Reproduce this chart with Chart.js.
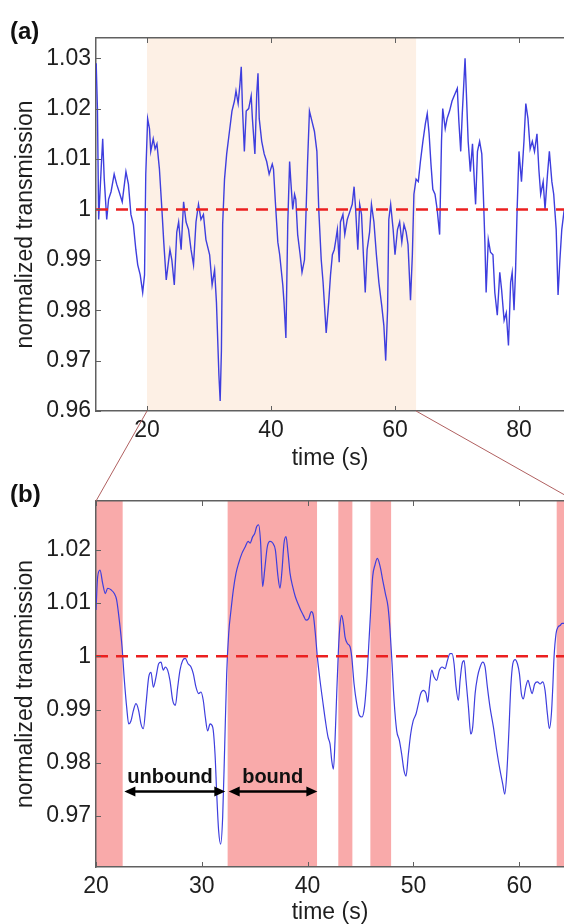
<!DOCTYPE html>
<html>
<head>
<meta charset="utf-8">
<title>normalized transmission</title>
<script src="https://cdn.jsdelivr.net/npm/chart.js@4.4.1/dist/chart.umd.min.js"></script>
<style>
  html, body { margin: 0; padding: 0; background: #ffffff; overflow: hidden; }
  #page { position: relative; width: 564px; height: 924px; }
  #chartA { position: absolute; left: 0; top: 0; }
  #chartB { position: absolute; left: 0; top: 405px; }
</style>
</head>
<body>
<div id="page">
  <canvas id="chartA" width="564" height="470"></canvas>
  <canvas id="chartB" width="564" height="519"></canvas>
</div>
<script>
// ---- panel (a): raw trace, time (s) / normalized transmission ----
const timeA = [
  11.8, 12.0, 12.2, 12.6, 12.85, 13.1, 13.5, 13.8, 14.2, 14.7,
  15.1, 15.5, 16.0, 16.6, 17.0, 17.4, 17.8, 18.2, 18.5, 18.9,
  19.3, 19.6, 19.8, 20.1, 20.4, 20.6, 21.0, 21.3, 21.6, 22.0,
  22.4, 22.7, 23.1, 23.3, 23.7, 24.0, 24.4, 24.8, 25.1, 25.5,
  25.9, 26.3, 26.7, 27.1, 27.5, 27.9, 28.3, 28.7, 29.1, 29.5,
  30.1, 30.5, 30.9, 31.2, 31.6, 31.8, 32.0, 32.2, 32.5, 32.85,
  33.3, 33.7, 34.1, 34.35, 34.7, 35.0, 35.2, 35.4, 35.7, 36.0,
  36.4, 36.8, 37.0, 37.4, 37.7, 37.9, 38.1, 38.5, 38.9, 39.3,
  39.7, 40.2, 40.4, 40.7, 41.1, 41.4, 41.9, 42.1, 42.4, 42.7,
  43.0, 43.2, 43.5, 43.8, 44.0, 44.3, 44.7, 45.0, 45.4, 45.6,
  45.9, 46.2, 46.6, 47.0, 47.4, 47.7, 48.1, 48.4, 48.9, 49.3,
  49.6, 49.9, 50.2, 50.4, 50.7, 51.0, 51.2, 51.6, 51.9, 52.3,
  52.7, 53.1, 53.4, 53.65, 54.0, 54.3, 54.6, 54.9, 55.2, 55.5,
  55.9, 56.2, 56.6, 57.0, 57.4, 57.85, 58.2, 58.5, 58.8, 59.0,
  59.3, 59.7, 60.0, 60.4, 60.75, 61.1, 61.45, 61.8, 62.1, 62.5,
  62.8, 63.05, 63.4, 63.76, 64.1, 64.5, 64.9, 65.2, 65.5, 65.8,
  66.1, 66.45, 66.8, 67.2, 67.5, 67.7, 68.1, 68.4, 68.8, 69.2,
  69.7, 70.05, 70.3, 70.6, 70.85, 71.1, 71.3, 71.5, 71.8, 72.15,
  72.5, 72.8, 73.0, 73.3, 73.65, 74.0, 74.25, 74.5, 74.7, 75.05,
  75.4, 75.8, 76.1, 76.5, 76.9, 77.2, 77.6, 77.95, 78.3, 78.65,
  78.9, 79.2, 79.45, 79.7, 80.0, 80.4, 80.8, 81.1, 81.45, 81.8,
  82.15, 82.5, 82.9, 83.2, 83.5, 83.9, 84.2, 84.6, 84.9, 85.3,
  85.6, 86.0, 86.3, 86.6, 86.9, 87.3
];
const transA = [
  1.029, 1.020, 0.998, 1.008, 1.014, 1.006, 0.998, 1.002, 1.0035, 1.007,
  1.005, 1.0035, 1.0015, 1.0075, 1.005, 0.999, 0.997, 0.992, 0.989, 0.987,
  0.9835, 0.987, 1.007, 1.018, 1.016, 1.0115, 1.014, 1.012, 1.013, 1.008,
  1.000, 0.9935, 0.986, 0.988, 0.992, 0.990, 0.985, 0.9955, 0.9975, 0.992,
  1.0015, 0.9975, 0.996, 0.992, 0.989, 0.9975, 1.001, 0.998, 0.999, 0.994,
  0.991, 0.985, 0.988, 0.9815, 0.967, 0.962, 0.972, 0.997, 1.006, 1.011,
  1.0155, 1.0195, 1.0215, 1.0235, 1.021, 1.025, 1.0283, 1.020, 1.0115, 1.0195,
  1.020, 1.0225, 1.018, 1.011, 1.023, 1.027, 1.018, 1.0135, 1.011, 1.0095,
  1.007, 1.009, 1.008, 1.0015, 0.9935, 0.991, 0.985, 0.9815, 0.9745, 0.997,
  1.0095, 1.0055, 1.000, 1.003, 1.002, 0.995, 0.991, 0.9875, 0.990, 0.9975,
  1.0095, 1.0195, 1.0175, 1.0155, 1.0115, 1.000, 0.990, 0.9855, 0.9755, 0.9815,
  0.987, 0.991, 0.992, 0.9935, 0.996, 0.9895, 0.9975, 0.999, 0.995, 0.998,
  0.9995, 1.001, 1.0045, 1.000, 0.992, 1.001, 0.999, 0.991, 0.9835, 0.992,
  0.9955, 1.001, 0.9975, 0.991, 0.9855, 0.981, 0.977, 0.970, 0.980, 0.998,
  1.001, 0.996, 0.991, 0.996, 0.9975, 0.9935, 0.997, 0.9955, 0.993, 0.982,
  0.991, 1.003, 1.006, 1.0055, 1.0095, 1.0135, 1.017, 1.019, 1.015, 1.009,
  1.004, 1.003, 1.000, 0.995, 1.0135, 1.020, 1.016, 1.018, 1.0195, 1.0215,
  1.023, 1.024, 1.0175, 1.0115, 1.019, 1.025, 1.030, 1.0235, 1.0135, 1.0075,
  1.013, 1.0055, 1.001, 1.0115, 1.0135, 1.011, 1.003, 0.9935, 0.9835, 0.994,
  0.9915, 0.991, 0.9835, 0.979, 0.9875, 0.984, 0.978, 0.9795, 0.973, 0.9855,
  0.9875, 0.980, 0.988, 1.000, 1.0115, 1.0055, 1.0135, 1.021, 1.018, 1.012,
  1.0135, 1.0115, 1.015, 1.008, 1.003, 1.0055, 1.000, 1.007, 1.0115, 1.0055,
  1.003, 0.996, 0.983, 0.990, 0.996, 1.000
];

// ---- panel (b): smoothed trace of the zoomed window ----
const timeB = [
  20.0, 20.16, 20.38, 20.63, 20.88, 21.1, 21.42, 21.73, 21.95, 22.2,
  22.46, 22.68, 22.9, 23.09, 23.31, 23.53, 23.78, 24.03, 24.25, 24.47,
  24.73, 24.98, 25.2, 25.42, 25.67, 25.92, 26.14, 26.36, 26.55, 26.77,
  26.99, 27.25, 27.5, 27.72, 27.94, 28.19, 28.44, 28.7, 28.98, 29.2,
  29.45, 29.7, 29.92, 30.14, 30.33, 30.55, 30.78, 31.03, 31.25, 31.41,
  31.59, 31.78, 31.97, 32.16, 32.35, 32.54, 32.76, 32.98, 33.23, 33.48,
  33.8, 34.11, 34.37, 34.56, 34.81, 35.0, 35.19, 35.37, 35.56, 35.75,
  35.94, 36.19, 36.45, 36.7, 36.95, 37.2, 37.39, 37.58, 37.77, 37.96,
  38.15, 38.34, 38.59, 38.84, 39.09, 39.34, 39.6, 39.85, 40.1, 40.35,
  40.54, 40.73, 40.92, 41.17, 41.42, 41.68, 41.93,
  42.12, 42.28, 42.44, 42.59, 42.75, 42.91, 43.07, 43.22, 43.38, 43.54,
  43.76, 44.01, 44.17, 44.39, 44.64, 44.89, 45.14, 45.37, 45.59, 45.77,
  45.96, 46.15, 46.37, 46.59, 46.85, 47.1, 47.35, 47.6, 47.79, 47.98,
  48.17, 48.42, 48.67, 48.89, 49.11, 49.3, 49.52, 49.74, 49.98, 50.25,
  50.47, 50.69, 50.94, 51.19, 51.35, 51.51, 51.73, 51.95, 52.2, 52.45,
  52.71, 52.99, 53.21, 53.46, 53.65, 53.84, 54.03, 54.25, 54.41, 54.6,
  54.79, 54.97, 55.2, 55.42, 55.6, 55.83, 56.05, 56.3, 56.55, 56.77,
  56.99, 57.24, 57.56, 57.87, 58.19, 58.44, 58.63, 58.82, 59.01, 59.2,
  59.39, 59.61, 59.83, 60.02, 60.2, 60.39, 60.61, 60.83, 61.02, 61.21,
  61.46, 61.72, 61.97, 62.22, 62.44, 62.66, 62.85, 63.04, 63.17, 63.29,
  63.48, 63.67, 63.86, 64.05, 64.24
];
const transB = [
  1.0087, 1.015, 1.0162, 1.0137, 1.0118, 1.0128, 1.0125, 1.0118, 1.0106, 1.0068,
  1.0018, 0.9955, 0.9904, 0.9873, 0.9879, 0.9898, 0.9911, 0.9898, 0.9873, 0.9864,
  0.9911, 0.9961, 0.997, 0.9942, 0.9961, 0.9986, 0.9989, 0.9974, 0.998, 0.9974,
  0.9955, 0.9917, 0.9908, 0.9942, 0.9974, 0.9992, 0.9996, 0.9986, 0.998, 0.9967,
  0.9942, 0.993, 0.9933, 0.9917, 0.9886, 0.986, 0.9873, 0.9867, 0.9816, 0.9741,
  0.9672, 0.9647, 0.9697, 0.9829, 0.9967, 1.0043, 1.0087, 1.0125, 1.0156, 1.0175,
  1.0194, 1.0206, 1.0216, 1.0213, 1.0225, 1.0231, 1.0244, 1.0247, 1.0213, 1.0131,
  1.0162, 1.0206, 1.0216, 1.0213, 1.02, 1.015, 1.0128, 1.0162, 1.0213, 1.0225,
  1.0194, 1.0156, 1.0131, 1.0112, 1.0099, 1.0087, 1.0077, 1.0068, 1.0071, 1.0084,
  1.0077, 1.0043, 0.9999, 0.9955, 0.9917, 0.9879, 0.9848,
  0.9835, 0.9804, 0.9788, 0.9842, 0.993, 1.0011, 1.0062, 1.0077, 1.0062, 1.0036,
  1.0024, 1.0018, 0.9999, 0.9948, 0.9911, 0.9889, 0.9886, 0.9904, 0.9955, 1.0018,
  1.0087, 1.015, 1.0172, 1.0184, 1.0169, 1.0143, 1.0118, 1.0093, 1.0049, 0.9986,
  0.9917, 0.986, 0.9842, 0.9816, 0.9785, 0.9775, 0.9816, 0.9854, 0.9879, 0.9892,
  0.9911, 0.993, 0.9936, 0.993, 0.9914, 0.9942, 0.9974, 0.9961, 0.9955, 0.9974,
  0.998, 0.9977, 0.9992, 1.0005, 1.0005, 0.9986, 0.9942, 0.9917, 0.9955, 0.9986,
  0.9992, 0.9955, 0.9904, 0.9854, 0.9867, 0.993, 0.9961, 0.998, 0.9989, 0.998,
  0.9942, 0.9904, 0.9867, 0.9823, 0.9785, 0.976, 0.9741, 0.9779, 0.9854, 0.9942,
  0.9986, 0.9994, 0.9986, 0.9967, 0.993, 0.992, 0.9942, 0.9955, 0.9942, 0.993,
  0.9948, 0.9952, 0.9948, 0.9952, 0.9936, 0.9892, 0.9864, 0.9892, 0.9942, 0.9999,
  1.0043, 1.0055, 1.0058, 1.0062, 1.0062
];

// reference level, axis ranges and ticks
const baseline = 1;
const xRangeA = [11.77, 87.26];
const yRangeA = [0.96, 1.034];
const xTicksA = [20, 40, 60, 80];
const yTicksA = [0.96, 0.97, 0.98, 0.99, 1, 1.01, 1.02, 1.03];
const xRangeB = [20, 64.23];
const yRangeB = [0.9604, 1.0292];
const xTicksB = [20, 30, 40, 50, 60];
const yTicksB = [0.97, 0.98, 0.99, 1, 1.01, 1.02];

// shaded zoom window in (a) and bound intervals in (b)
const zoomWindow = [20, 63.4];
const panelBEnd = 65.3;
const boundStart = [20, 32.44, 42.9, 45.93, 63.54];
const boundEnd = [22.52, 40.89, 44.23, 47.89, 64.23];

// annotations in (b)
const arrowLabels = ['unbound', 'bound'];
const arrowFrom = [22.68, 32.54];
const arrowTo = [32.22, 40.92];
const labelCenter = [27.0, 36.7];
const arrowLevel = 0.9746;
const labelLevel = 0.9762;

const FONT = '"Liberation Sans", Arial, sans-serif';
const INK = '#1e1e1e';
const FRAME = '#606060';
const BLUE = 'rgb(62,62,222)';
const RED = 'rgb(235,32,32)';
const B_TOP = 405;

function points(ts, vs) {
  return ts.map((t, i) => ({ x: t, y: vs[i] }));
}

function axes(xRange, yRange, xTicks, yTicks, topH, bottomH) {
  const setTicks = list => scale => { scale.ticks = list.map(v => ({ value: v })); };
  const tickFont = { family: FONT, size: 23, lineHeight: 1 };
  return {
    x: {
      type: 'linear', position: 'bottom', min: xRange[0], max: xRange[1],
      afterBuildTicks: setTicks(xTicks),
      afterFit: s => { s.height = bottomH; },
      grid: { display: false, drawTicks: false },
      border: { display: true, color: FRAME, width: 1.5 },
      ticks: { autoSkip: false, maxRotation: 0, padding: 8, color: INK, font: tickFont, callback: v => String(v) },
      title: { display: true, text: 'time (s)', color: INK, font: tickFont, padding: 0 }
    },
    xTop: {
      type: 'linear', position: 'top', min: xRange[0], max: xRange[1],
      afterBuildTicks: setTicks(xTicks),
      afterFit: s => { s.height = topH; },
      grid: { display: false, drawTicks: false },
      border: { display: true, color: FRAME, width: 1.5 },
      ticks: { display: false }
    },
    y: {
      type: 'linear', position: 'left', min: yRange[0], max: yRange[1],
      afterBuildTicks: setTicks(yTicks),
      afterFit: s => { s.width = 96; },
      grid: { display: false, drawTicks: false },
      border: { display: true, color: FRAME, width: 1.5 },
      ticks: { autoSkip: false, padding: 5, color: INK, font: tickFont, callback: v => String(v) },
      title: { display: true, text: 'normalized transmission', color: INK, font: tickFont, padding: { top: 14, bottom: 0 } }
    }
  };
}

// small inward tick marks, matlab style
const innerTicks = {
  id: 'innerTicks',
  afterDraw(chart) {
    const { ctx, chartArea: a } = chart;
    ctx.save();
    ctx.strokeStyle = FRAME;
    ctx.lineWidth = 1;
    ctx.beginPath();
    Object.values(chart.scales).forEach(s => {
      s.ticks.forEach(t => {
        const p = Math.round(s.getPixelForValue(t.value)) + 0.5;
        if (s.axis === 'x') {
          const y0 = s.position === 'top' ? a.top : a.bottom;
          const dir = s.position === 'top' ? 1 : -1;
          ctx.moveTo(p, y0);
          ctx.lineTo(p, y0 + dir * 5);
        } else {
          ctx.moveTo(a.left, p);
          ctx.lineTo(a.left + 5, p);
        }
      });
    });
    ctx.stroke();
    ctx.restore();
  }
};

function bands(starts, ends, color) {
  return {
    id: 'bands',
    beforeDraw(chart) {
      const { ctx, chartArea: a, scales: { x } } = chart;
      ctx.save();
      ctx.fillStyle = color;
      starts.forEach((t0, i) => {
        const x0 = Math.max(a.left, x.getPixelForValue(t0));
        const x1 = Math.min(a.right, x.getPixelForValue(ends[i]));
        ctx.fillRect(x0, a.top, x1 - x0, a.bottom - a.top);
      });
      ctx.restore();
    }
  };
}

function panelLabel(text, y) {
  return {
    id: 'panelLabel',
    afterDraw(chart) {
      const ctx = chart.ctx;
      ctx.save();
      ctx.fillStyle = '#111';
      ctx.font = 'bold 24px ' + FONT;
      ctx.textBaseline = 'middle';
      ctx.fillText(text, 10, y);
      ctx.restore();
    }
  };
}

const arrows = {
  id: 'arrows',
  afterDatasetsDraw(chart) {
    const { ctx, scales: { x, y } } = chart;
    const ya = y.getPixelForValue(arrowLevel);
    const head = (px, dir) => {
      ctx.beginPath();
      ctx.moveTo(px, ya);
      ctx.lineTo(px + dir * 11, ya - 5);
      ctx.lineTo(px + dir * 11, ya + 5);
      ctx.closePath();
      ctx.fill();
    };
    ctx.save();
    ctx.strokeStyle = '#000';
    ctx.fillStyle = '#000';
    ctx.lineWidth = 2.5;
    arrowFrom.forEach((t0, i) => {
      const x0 = x.getPixelForValue(t0);
      const x1 = x.getPixelForValue(arrowTo[i]);
      ctx.beginPath();
      ctx.moveTo(x0 + 8, ya);
      ctx.lineTo(x1 - 8, ya);
      ctx.stroke();
      head(x0, 1);
      head(x1, -1);
      ctx.fillStyle = '#111';
      ctx.font = 'bold 20px ' + FONT;
      ctx.textAlign = 'center';
      ctx.textBaseline = 'alphabetic';
      ctx.fillText(arrowLabels[i], x.getPixelForValue(labelCenter[i]), y.getPixelForValue(labelLevel));
      ctx.fillStyle = '#000';
    });
    ctx.restore();
  }
};

const baseOptions = {
  responsive: false,
  animation: false,
  events: [],
  layout: { padding: 0 },
  plugins: { legend: { display: false }, tooltip: { enabled: false } }
};

const chartA = new Chart(document.getElementById('chartA'), {
  type: 'line',
  data: {
    datasets: [
      { data: points(xRangeA, [baseline, baseline]), borderColor: RED, borderWidth: 2.5, borderDash: [12, 8], pointRadius: 0 },
      { data: points(timeA, transA), borderColor: BLUE, borderWidth: 1.4, pointRadius: 0, tension: 0 }
    ]
  },
  options: { ...baseOptions, scales: axes(xRangeA, yRangeA, xTicksA, yTicksA, 38, 470 - 411) },
  plugins: [bands([zoomWindow[0]], [zoomWindow[1]], 'rgb(253,240,229)'), innerTicks, panelLabel('(a)', 32)]
});

// lines joining the zoom window of (a) to the frame of (b)
const zoomLines = {
  id: 'zoomLines',
  afterDraw(chart) {
    const ctx = chart.ctx;
    const sa = chartA.scales.x;
    const ya = chartA.chartArea.bottom - B_TOP;
    const b = chart.chartArea;
    ctx.save();
    ctx.strokeStyle = 'rgb(176,96,96)';
    ctx.lineWidth = 1;
    ctx.beginPath();
    ctx.moveTo(sa.getPixelForValue(zoomWindow[0]), ya);
    ctx.lineTo(b.left, b.top);
    ctx.moveTo(sa.getPixelForValue(zoomWindow[1]), ya);
    ctx.lineTo(chart.scales.x.getPixelForValue(panelBEnd), b.top);
    ctx.stroke();
    ctx.restore();
  }
};

new Chart(document.getElementById('chartB'), {
  type: 'line',
  data: {
    datasets: [
      { data: points(xRangeB, [baseline, baseline]), borderColor: RED, borderWidth: 2.5, borderDash: [12, 8], pointRadius: 0 },
      { data: points(timeB, transB), borderColor: BLUE, borderWidth: 1.2, pointRadius: 0, cubicInterpolationMode: 'monotone' }
    ]
  },
  options: { ...baseOptions, scales: axes(xRangeB, yRangeB, xTicksB, yTicksB, 501 - B_TOP, 519 - (867 - B_TOP)) },
  plugins: [bands(boundStart, boundEnd, 'rgb(249,170,170)'), innerTicks, arrows, panelLabel('(b)', 495 - B_TOP), zoomLines]
});
</script>
</body>
</html>
